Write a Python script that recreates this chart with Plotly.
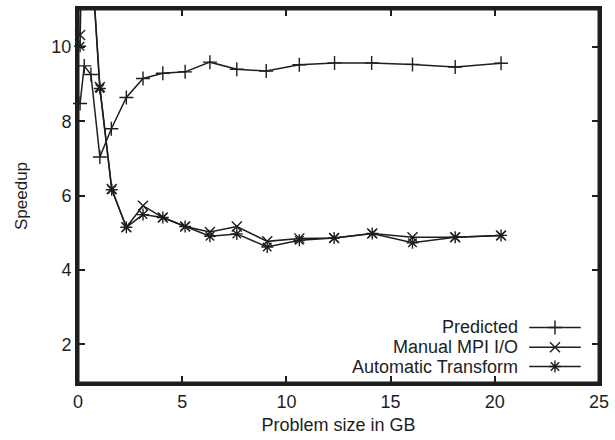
import plotly.graph_objects as go

# Data
pred_x = [0.1, 0.3, 0.62, 1.05, 1.6, 2.32, 3.12, 4.07, 5.14, 6.33, 7.62, 9.03, 10.62, 12.31, 14.09, 16.05, 18.1, 20.3]
pred_y = [8.48, 9.49, 9.26, 7.04, 7.8, 8.64, 9.15, 9.29, 9.33, 9.59, 9.40, 9.35, 9.52, 9.57, 9.57, 9.53, 9.46, 9.56]

mpi_x = [0.1, 0.25, 1.05, 1.62, 2.32, 3.12, 4.07, 5.14, 6.33, 7.62, 9.08, 10.62, 12.29, 14.12, 16.05, 18.1, 20.3]
mpi_y = [10.32, 15.9, 8.92, 6.18, 5.15, 5.73, 5.41, 5.17, 5.02, 5.17, 4.77, 4.85, 4.86, 4.98, 4.88, 4.88, 4.93]

auto_x = [0.1, 0.25, 1.05, 1.62, 2.32, 3.12, 4.07, 5.14, 6.33, 7.62, 9.08, 10.62, 12.29, 14.12, 16.05, 18.1, 20.3]
auto_y = [10.02, 15.8, 8.88, 6.16, 5.15, 5.49, 5.41, 5.17, 4.91, 4.97, 4.62, 4.80, 4.86, 4.98, 4.73, 4.88, 4.93]

series_names = ["Predicted", "Manual MPI I/O", "Automatic Transform"]
series_symbols = ["cross-thin-open", "x-thin-open", "asterisk-open"]

x_ticks = [0, 5, 10, 15, 20, 25]
y_ticks = [2, 4, 6, 8, 10]

INK = "#1e1e1e"
FONT = "Liberation Sans, Arial, sans-serif"
FS = 18

fig = go.Figure()
for xs, ys, name, sym in zip([pred_x, mpi_x, auto_x], [pred_y, mpi_y, auto_y], series_names, series_symbols):
    fig.add_trace(go.Scatter(
        x=xs, y=ys, name=name, mode="lines+markers",
        line=dict(color=INK, width=1.5),
        marker=dict(symbol=sym, size=10, color=INK, line=dict(color=INK, width=1.4)),
        cliponaxis=False, showlegend=False,
    ))

# Custom gnuplot-style legend (text right-aligned, sample on the right)
leg_rows = [0.1485, 0.0955, 0.044]  # paper-fraction of plot height
leg_x0, leg_x1 = 0.866, 0.965
for name, sym, ry in zip(series_names, series_symbols, leg_rows):
    fig.add_trace(go.Scatter(
        x=[leg_x0, (leg_x0 + leg_x1) / 2, leg_x1], y=[ry, ry, ry], mode="lines",
        line=dict(color=INK, width=1.5),
        xaxis="x2", yaxis="y2", showlegend=False, hoverinfo="skip",
    ))
    fig.add_trace(go.Scatter(
        x=[(leg_x0 + leg_x1) / 2], y=[ry], mode="markers",
        marker=dict(symbol=sym, size=10, color=INK, line=dict(color=INK, width=1.4)),
        xaxis="x2", yaxis="y2", showlegend=False, hoverinfo="skip", cliponaxis=False,
    ))
    fig.add_annotation(
        x=leg_x0 - 0.018, y=ry, xref="paper", yref="paper", text=name, showarrow=False,
        xanchor="right", yanchor="middle", font=dict(size=FS, color=INK, family=FONT),
    )

axis_common = dict(
    showline=True, linewidth=3, linecolor=INK, mirror="ticks",
    ticks="inside", ticklen=7, tickwidth=2, tickcolor=INK,
    showgrid=False, zeroline=False,
    tickfont=dict(size=FS, color=INK, family=FONT),
)

# Heavy plot frame
fig.add_shape(type="rect", xref="paper", yref="paper", x0=0, x1=1, y0=0, y1=1,
              line=dict(color=INK, width=3), layer="above")

fig.update_layout(
    width=615, height=440,
    margin=dict(l=78, r=13, t=6, b=57),
    paper_bgcolor="white", plot_bgcolor="white",
    font=dict(family=FONT, color=INK, size=FS),
    xaxis=dict(range=[0, 25], tickvals=x_ticks,
               title=dict(text="Problem size in GB", font=dict(size=FS), standoff=8),
               **axis_common),
    yaxis=dict(range=[0.96, 11.02], tickvals=y_ticks,
               title=dict(text="Speedup", font=dict(size=FS - 1), standoff=20),
               **axis_common),
    xaxis2=dict(domain=[0, 1], range=[0, 1], visible=False, anchor="y2", overlaying="x"),
    yaxis2=dict(domain=[0, 1], range=[0, 1], visible=False, anchor="x2", overlaying="y"),
)

fig.write_html("out.html", config={"displayModeBar": False},
               post_script="document.body.style.margin='0';document.body.style.overflow='hidden';")
